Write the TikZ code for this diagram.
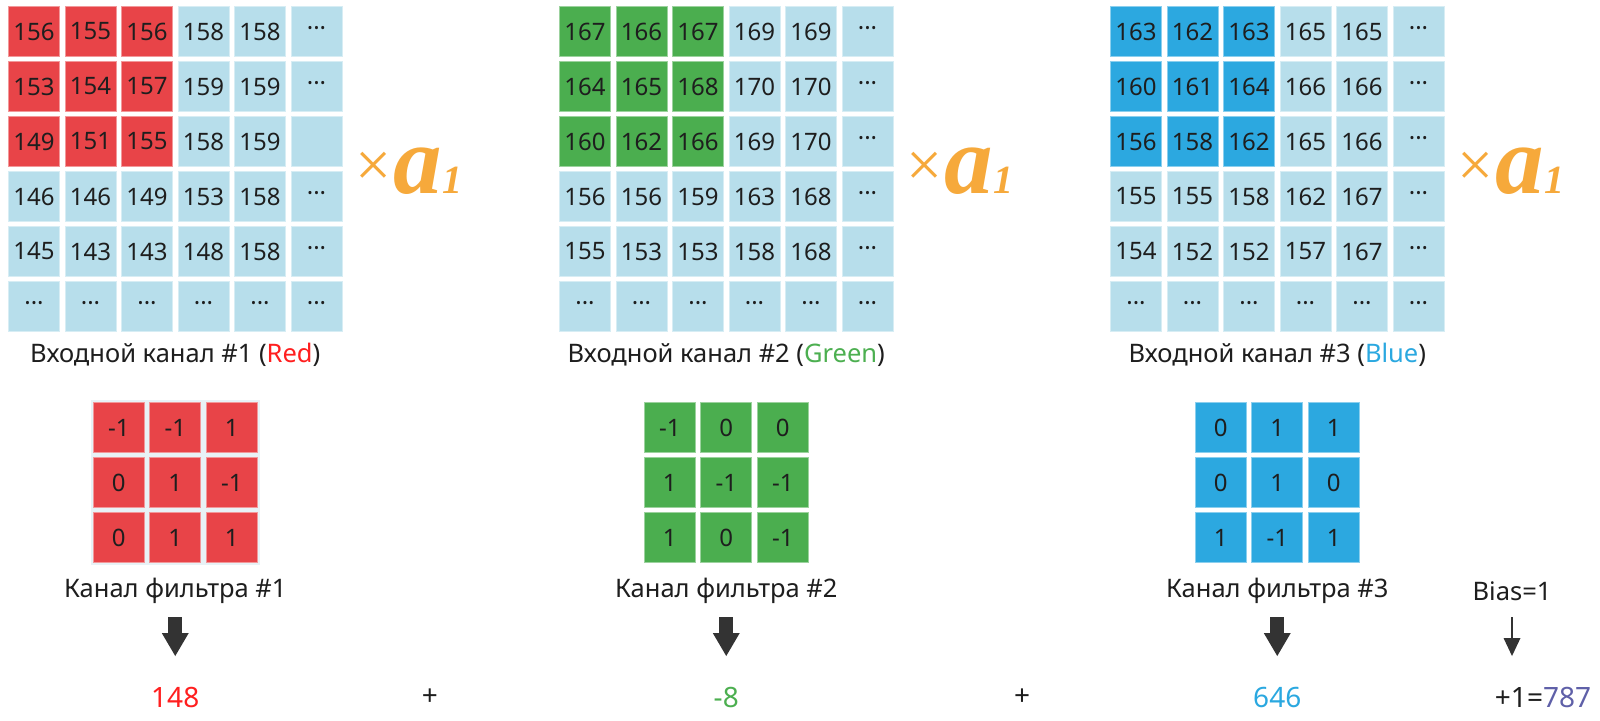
\documentclass[tikz,border=0pt]{standalone}
\usepackage{fontspec}
\setmainfont{Noto Sans}
\newfontfamily\serifb{Liberation Serif}
\usetikzlibrary{arrows.meta}
\definecolor{cred}{HTML}{E84448}
\definecolor{cgreen}{HTML}{4BAE4F}
\definecolor{cblue}{HTML}{2CA8E0}
\definecolor{cbg}{HTML}{B7DEEB}
\definecolor{corange}{HTML}{F6A93B}
\definecolor{tred}{HTML}{FF1F1F}
\definecolor{tgreen}{HTML}{4CAF50}
\definecolor{tblue}{HTML}{2AA8E0}
\definecolor{tpurple}{HTML}{5F60A8}
\definecolor{txt}{HTML}{1E1E1E}
\definecolor{arrc}{HTML}{333333}
\definecolor{fbg}{HTML}{E8F2F6}
\newcommand\dd{···}
\newcommand\mkgrid[4]{%
  \foreach \row [count=\i from 0] in {#4} {
    \foreach \v [count=\j from 0] in \row {
      \ifnum\i<3 \ifnum\j<3 \def\cc{#3}\else\def\cc{cbg}\fi\else\def\cc{cbg}\fi
      \node[cell, fill=\cc, draw=\cc!55!white] (#1-\i-\j) at ({#2+\j*56.5+26},{6+\i*55+25.5}) {\v};
    }
  }
}
\newcommand\mkfilter[4]{%
  \foreach \row [count=\i from 0] in {#4} {
    \foreach \v [count=\j from 0] in \row {
      \node[cell, fill=#3, draw=#3!55!white] (#1-\i-\j) at ({#2-56.5+\j*56.5},{402+25.5+\i*55}) {\v};
    }
  }
}
\begin{document}
\begin{tikzpicture}[x=1pt,y=-1pt,
  cell/.style={minimum width=51pt, minimum height=50pt, inner sep=0pt, line width=1pt, text=txt, font=\fontsize{24}{24}\selectfont},
  lbl/.style={inner sep=0pt, text=txt, font=\fontsize{25.5}{25.5}\selectfont},
  res/.style={inner sep=0pt, text=txt, font=\fontsize{28}{28}\selectfont},
  mult/.style={anchor=base west, inner sep=0pt, text=corange},
  bigarrow/.style={arrc, line width=14pt, -{Triangle[width=27pt,length=23pt,line width=0pt]}},
  thinarrow/.style={arrc, line width=2pt, -{Triangle[width=17pt,length=18pt,line width=0pt]}}
]
\useasboundingbox (0,0) rectangle (1600,720);
\fill[white] (0,0) rectangle (1600,720);

% input grids
\mkgrid{g1}{8}{cred}{{156,155,156,158,158,\dd},{153,154,157,159,159,\dd},{149,151,155,158,159,{}},{146,146,149,153,158,\dd},{145,143,143,148,158,\dd},{\dd,\dd,\dd,\dd,\dd,\dd}}
\mkgrid{g2}{559}{cgreen}{{167,166,167,169,169,\dd},{164,165,168,170,170,\dd},{160,162,166,169,170,\dd},{156,156,159,163,168,\dd},{155,153,153,158,168,\dd},{\dd,\dd,\dd,\dd,\dd,\dd}}
\mkgrid{g3}{1110}{cblue}{{163,162,163,165,165,\dd},{160,161,164,166,166,\dd},{156,158,162,165,166,\dd},{155,155,158,162,167,\dd},{154,152,152,157,167,\dd},{\dd,\dd,\dd,\dd,\dd,\dd}}

% multipliers
\foreach \mx/\nm in {355/m1, 906/m2, 1457/m3} {
  \node[mult] (\nm) at (\mx,193) {\serifb\fontsize{64}{64}\selectfont\raisebox{7pt}{×}\hspace{2pt}\fontsize{97}{97}\selectfont\bfseries\itshape a\hspace{1pt}\fontsize{40}{40}\selectfont 1};
}

% grid labels
\node[lbl] (l1) at (175.25,355) {Входной канал \#1 (\textcolor{tred}{Red})};
\node[lbl] (l2) at (726.25,355) {Входной канал \#2 (\textcolor{tgreen}{Green})};
\node[lbl] (l3) at (1277.25,355) {Входной канал \#3 (\textcolor{tblue}{Blue})};

% filters
\fill[fbg] (90.5,400) rectangle (260,565);
\mkfilter{f1}{175.25}{cred}{{-1,-1,1},{0,1,-1},{0,1,1}}
\mkfilter{f2}{726.25}{cgreen}{{-1,0,0},{1,-1,-1},{1,0,-1}}
\mkfilter{f3}{1277.25}{cblue}{{0,1,1},{0,1,0},{1,-1,1}}

\node[lbl] (fl1) at (175.25,591) {Канал фильтра \#1};
\node[lbl] (fl2) at (726.25,591) {Канал фильтра \#2};
\node[lbl] (fl3) at (1277.25,591) {Канал фильтра \#3};
\node[lbl] (bias) at (1512,591) {Bias=1};

% arrows
\coordinate (a1s) at (175.25,617); \coordinate (a1e) at (175.25,656);
\coordinate (a2s) at (726.25,617); \coordinate (a2e) at (726.25,656);
\coordinate (a3s) at (1277.25,617); \coordinate (a3e) at (1277.25,656);
\coordinate (a4s) at (1512,617); \coordinate (a4e) at (1512,656);
\draw[bigarrow] (a1s) -- (a1e);
\draw[bigarrow] (a2s) -- (a2e);
\draw[bigarrow] (a3s) -- (a3e);
\draw[thinarrow] (a4s) -- (a4e);

% results
\node[res, text=tred] (r1) at (175.25,697) {148};
\node[res] (p1) at (430,697) {+};
\node[res, text=tgreen] (r2) at (726.25,697) {-8};
\node[res] (p2) at (1022,697) {+};
\node[res, text=tblue] (r3) at (1277.25,697) {646};
\node[res] (r4) at (1543,697) {+1=\textcolor{tpurple}{787}};
\end{tikzpicture}
\end{document}
